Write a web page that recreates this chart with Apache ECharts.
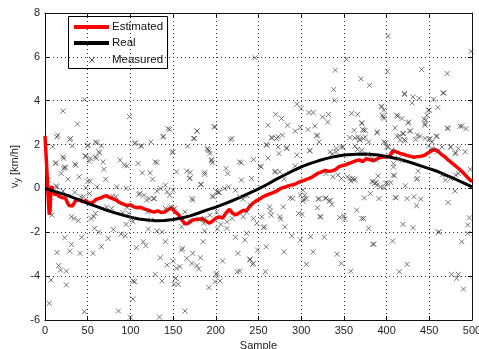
<!DOCTYPE html>
<html>
<head>
<meta charset="utf-8">
<script src="https://cdn.jsdelivr.net/npm/echarts@6/dist/echarts.min.js"></script>
<style>
  html, body { margin: 0; padding: 0; background: #fff; width: 100%; height: 100%; overflow: hidden; }
  #chart { width: 100vw; height: 100vh; }
</style>
</head>
<body>
<div id="chart"></div>
<script>
// Filter estimate of the lateral velocity
const estimatedSample = [0, 2, 4, 5, 6, 7, 8, 10, 12, 14, 16, 18, 20, 22, 24, 26, 28, 30, 32, 34, 36, 38, 40,
  44, 48, 52, 56, 60, 64, 68, 72, 76, 80, 84, 88, 92, 96, 100, 104, 108, 112, 116, 120, 124, 128, 132, 136,
  140, 144, 148, 152, 156, 160, 164, 168, 172, 176, 180, 184, 188, 192, 196, 200, 204, 208, 212, 216, 220,
  224, 228, 232, 236, 240, 244, 248, 252, 256, 260, 264, 268, 272, 276, 280, 284, 288, 292, 296, 300, 304,
  308, 312, 316, 320, 324, 328, 332, 336, 340, 344, 348, 352, 356, 360, 364, 368, 372, 376, 380, 384, 388,
  392, 396, 400, 404, 408, 412, 416, 420, 424, 428, 432, 436, 440, 444, 448, 452, 456, 460, 464, 468, 472,
  476, 480, 484, 488, 492, 496, 500];
const estimatedValue = [2.4, 1.0, -0.6, -1.2, -1.0, 0.0, 0.1, -0.2, -0.3, -0.2, -0.35, -0.3, -0.42, -0.35,
  -0.45, -0.62, -0.78, -0.85, -0.8, -0.68, -0.55, -0.58, -0.52,
  -0.6, -0.56, -0.68, -0.63, -0.5, -0.45, -0.38, -0.33, -0.42, -0.48, -0.55, -0.66, -0.72, -0.78, -0.75,
  -0.84, -0.88, -0.86, -0.93, -0.98, -1.04, -1.08, -1.02, -1.1, -1.08, -0.97, -0.88, -1.06, -1.18, -1.42,
  -1.62, -1.58, -1.45, -1.42, -1.4, -1.38, -1.47, -1.58, -1.5, -1.36, -1.3, -1.35, -1.12, -0.95, -1.15,
  -1.2, -1.1, -1.0, -1.02, -0.8, -0.66, -0.55, -0.47, -0.36, -0.3, -0.24, -0.18, -0.1, 0.0, 0.05, 0.1,
  0.15, 0.18, 0.26, 0.32, 0.38, 0.44, 0.5, 0.6, 0.7, 0.76, 0.82, 0.78, 0.8, 0.86, 0.98, 1.04, 1.08, 1.14,
  1.2, 1.26, 1.3, 1.22, 1.35, 1.32, 1.27, 1.33, 1.4, 1.44, 1.42, 1.5, 1.72, 1.66, 1.6, 1.55, 1.5, 1.46,
  1.42, 1.45, 1.47, 1.5, 1.6, 1.7, 1.78, 1.7, 1.56, 1.45, 1.3, 1.18, 1.05, 0.92, 0.78, 0.62, 0.45, 0.3];

// True lateral velocity
const realSample = [0, 10, 20, 30, 40, 50, 60, 70, 80, 90, 100, 110, 120, 130, 140, 150, 160, 170, 180,
  190, 200, 210, 220, 230, 240, 250, 260, 270, 280, 290, 300, 310, 320, 330, 340, 350, 360, 370, 380, 390,
  400, 410, 420, 430, 440, 450, 460, 470, 480, 490, 500];
const realValue = [0.0, -0.12, -0.24, -0.37, -0.52, -0.68, -0.82, -0.96, -1.09, -1.2, -1.31, -1.39, -1.44,
  -1.47, -1.46, -1.42, -1.35, -1.25, -1.12, -0.98, -0.85, -0.7, -0.55, -0.38, -0.2, -0.02, 0.18, 0.4, 0.6,
  0.8, 0.98, 1.13, 1.26, 1.37, 1.46, 1.52, 1.55, 1.57, 1.56, 1.52, 1.46, 1.38, 1.28, 1.16, 1.03, 0.9, 0.77,
  0.6, 0.43, 0.25, 0.07];

// Noisy measurements [sample, km/h]
const measured = [
  [46,4.05],[21,3.53],[38,2.94],[99,3.28],[15,2.43],[14,2.35],[9,1.9],[29,2.23],[32,1.94],[50,1.94],
  [61,2.09],[66,1.94],[47,1.48],[52,1.24],[64,1.62],[60,1.37],[68,1.21],[69,0.87],[12,1.14],[22,1.37],
  [24,0.94],[36,1.06],[19,0.68],[88,1.29],[93,1.06],[96,1.03],[109,1.14],[114,0.71],[123,0.71],[131,1.18],
  [105,2.05],[113,1.93],[124,2.12],[138,2.35],[146,2.69],[149,1.64],[154,0.76],[166,0.79],[170,0.73],
  [167,1.93],[175,2.28],[178,2.61],[190,1.82],[192,1.71],[193,1.59],[195,1.32],[196,1.17],[198,2.81],
  [187,0.73],[212,0.91],[214,0.68],[217,2.23],[219,2.28],
  [402,6.95],[499,6.25],[246,5.96],[353,5.89],[340,5.39],[401,5.34],[441,5.42],[471,5.24],[370,5.0],
  [380,4.7],[338,4.51],[339,4.02],[421,4.29],[431,4.17],[438,4.1],[430,3.9],[455,4.07],[467,4.35],
  [460,3.69],[450,3.57],[447,3.34],[295,3.84],[300,3.64],[309,3.46],[314,3.46],[325,3.26],[332,3.37],
  [270,3.38],[277,3.19],[331,3.03],[359,3.42],[366,3.38],[394,3.72],[396,3.26],[397,3.19],[412,3.34],
  [418,3.19],[445,2.96],[444,3.16],[261,2.88],[284,2.88],[293,2.61],[299,2.78],[308,2.69],[316,2.85],
  [371,2.99],[362,2.65],[373,2.65],[389,2.58],[425,2.99],[410,2.76],[419,2.5],[415,2.4],[421,2.23],
  [427,2.62],[436,2.43],[450,2.23],[453,2.12],[459,2.38],[471,2.76],[488,2.84],[493,2.73],[265,2.32],
  [273,2.35],[278,2.43],[319,2.43],[321,2.12],[357,2.32],[367,2.35],[375,2.35],[369,2.2],[379,2.12],
  [260,1.97],[273,1.89],[283,1.82],[295,1.52],[310,1.71],[334,1.67],[341,1.82],[347,1.89],[397,2.12],
  [400,1.89],[465,1.89],[475,1.89],[484,1.82],[480,1.59],[244,1.32],[230,1.17],[253,0.98],[270,0.76],
  [275,0.76],[498,0.87],
  [5,-5.24],[46,-5.62],[86,-5.59],[100,-5.87],[103,-5.04],[103,-4.22],[105,-4.25],[134,-5.87],[164,-5.59],
  [7,-4.18],[25,-4.4],[16,-3.52],[18,-3.72],[25,-3.77],[14,-2.92],[29,-2.86],[23,-2.25],[31,-2.55],
  [41,-2.96],[43,-2.23],[56,-2.96],[58,-1.82],[63,-2.0],[66,-2.66],[74,-2.28],[80,-1.87],[89,-2.09],
  [94,-2.16],[95,-1.64],[107,-2.7],[115,-2.43],[118,-2.61],[121,-1.85],[131,-1.94],[137,-1.98],[141,-2.43],
  [135,-3.16],[129,-3.92],[137,-4.22],[143,-3.49],[150,-3.31],[151,-4.37],[154,-3.64],[153,-4.1],
  [158,-3.57],[160,-2.81],[161,-2.73],[160,-1.75],[166,-3.19],[172,-3.42],[173,-2.96],[178,-3.52],
  [182,-3.16],[180,-3.67],[185,-2.43],[187,-1.94],[192,-4.52],[199,-4.25],[201,-3.95],[205,-4.22],
  [208,-3.31],[202,-1.85],[206,-1.64],[223,-2.23],[226,-2.96],[228,-3.77],
  [27,0.42],[40,0.53],[53,0.33],[61,0.07],[71,0.42],[84,0.07],[95,0.0],[48,0.03],[52,-0.23],[35,-0.18],
  [42,-0.38],[14,0.07],[21,-0.12],[31,-1.29],[34,-1.37],[39,-1.47],[8,-1.22],[54,-1.37],[59,-1.14],
  [72,-0.84],[78,-0.91],[101,-1.37],[103,-1.52],[111,-0.23],[116,-0.31],[119,-0.53],[126,0.42],[131,-0.12],
  [128,-0.46],[141,0.15],[146,-0.31],[150,-0.08],[152,-0.91],[169,0.45],[164,-1.07],[170,-1.52],[183,0.18],
  [181,-1.44],[186,-1.59],[196,-0.35],[201,-0.15],[204,-0.18],[215,0.07],[210,0.0],[213,-1.52],[219,-1.37],
  [173,-0.53],
  [242,0.45],[280,0.42],[357,0.45],[363,0.42],[384,0.3],[388,0.27],[399,0.23],[409,0.57],[435,0.42],
  [237,-0.34],[232,-0.49],[263,-0.84],[264,-1.03],[265,-1.22],[279,-0.84],[287,-0.43],[290,-0.46],
  [299,-0.31],[302,-0.58],[303,-0.49],[297,-1.14],[301,-1.18],[320,-0.49],[329,-0.43],[334,-0.53],
  [336,-0.73],[319,-0.88],[322,-1.29],[345,-1.32],[350,-1.25],[351,-1.4],[365,-0.99],[373,-1.37],
  [379,-1.82],[374,-0.43],[381,-0.23],[391,-0.46],[411,-0.43],[424,-0.46],[432,-0.38],[440,-0.49],
  [435,-0.79],[419,-1.64],[431,-1.79],[472,-0.64],[461,-2.0],[497,-1.34],[495,-1.67],[495,-2.05],
  [488,-2.43],[476,-3.92],[484,-3.92],[482,-4.1],[490,-4.59],[407,-2.4],[384,-2.55],[415,-3.8],[424,-3.46],
  [358,-3.77],[342,-3.0],[347,-3.42],[311,-2.2],[327,-2.23],[299,-2.35],[289,-2.16],[280,-2.89],
  [306,-3.46],[314,-2.89],[259,-2.66],[249,-2.81],[240,-3.26],[244,-3.42],[243,-3.46],[258,-3.8],
  [234,-2.35],[236,-2.05],[248,-1.59],[244,-1.37],[256,-1.79],[275,-1.29],[281,-1.75],
  [4,0.38],[13,0.12],[22,0.91],[50,0.33],[45,-0.38],[57,-1.29],[79,-0.35],[83,-0.38],[96,-0.86],
  [91,-1.11],[98,-1.14],[110,-0.27],[122,-0.46],[120,-1.07],[124,-1.44],
  [141,-0.91],[147,-0.84],[172,-0.46],[187,-1.37],[193,-1.22],[201,-1.07],[197,-0.38],[203,-0.18],
  [223,-0.08],[228,-0.38],[232,-1.29],[236,-1.07],[240,-0.76],[213,-1.82],[230,0.38],[127,-0.46],
  [135,0.0],[143,-0.15],[170,0.48],[187,0.64],[182,0.18],[225,-3.8],[240,-3.22],[153,-4.1],[156,-4.37],
  [201,-3.87],
  [269,0.76],[302,-0.08],[304,-0.31],[306,-0.46],[321,-0.46],[328,-0.46],[333,-0.58],[323,-1.29],
  [347,0.45],[354,0.53],[360,0.45],[362,0.38],[358,0.33],[337,0.53],[343,0.61],[329,0.68],[254,-1.29],
  [257,-1.75],[276,-1.4],
  [383,0.33],[386,0.23],[389,0.15],[393,0.07],[397,0.03],[401,0.23],[405,0.27],[390,0.57],[408,0.61],
  [408,0.98],[436,0.45],[437,0.79],[422,0.12],[465,0.61],[469,0.38],[475,0.45],[481,0.61],[484,0.68],
  [480,-0.12],[410,-0.41],[371,-1.37],[385,-2.54],[461,-1.98],
  [266,2.3],[271,2.28],[259,2.0],[274,1.59],[261,1.39],[283,1.85],[252,1.02],[293,1.02],[318,2.4],
  [310,1.74],[371,2.96],[372,2.69],[363,2.3],[368,2.23],[336,1.56],[341,1.67],[349,1.89],[363,1.93],
  [366,1.78],[371,1.74],
  [421,4.33],[466,4.35],[394,3.75],[397,3.57],[395,3.34],[449,3.57],[446,3.11],[445,2.88],[413,3.29],
  [426,3.03],[420,2.5],[428,2.62],[412,2.38],[416,2.2],[422,2.17],[389,2.53],[375,2.65],[373,2.28],
  [472,2.73],[486,2.84],[434,2.23],[439,2.38],[445,2.28],[451,2.28],[458,2.38],[399,2.08],[402,1.89],
  [406,1.74],[449,1.93],[453,1.82],[459,1.67],[475,1.89],[481,1.62],[492,1.67],[378,1.56],[383,1.37],
  [388,1.29],[408,1.14],[414,1.37],[418,1.26],
  [30,2.28],[50,1.97],[59,2.12],[63,1.67],[106,2.08],[112,1.93],[21,1.44],[13,1.17],[23,0.98],[35,1.11],
  [48,1.47],[53,1.37],[59,1.44],[144,2.73],[139,2.38],[178,2.62],[174,2.28],[199,2.81],[150,1.67],
  [129,1.21],[191,1.78],[195,1.26],[228,1.21]
];

const xTicks = { min: 0, max: 500, step: 50 };
const yTicks = { min: -6, max: 8, step: 2 };
const legendNames = ['Estimated', 'Real', 'Measured'];

const FONT = 'Liberation Sans, Arial, Helvetica, sans-serif';
const estimatedData = estimatedSample.map((s, i) => [s, estimatedValue[i]]);
const realData = realSample.map((s, i) => [s, realValue[i]]);
const crossPath = 'path://M0,0L10,10M10,0L0,10';

const chart = echarts.init(document.getElementById('chart'), null, { renderer: 'canvas' });

const gridLine = { show: true, lineStyle: { color: '#333', width: 1, type: [1, 3] } };
const boxAxisLine = { show: true, onZero: false, lineStyle: { color: '#111', width: 1 } };
const innerTick = { show: true, inside: true, length: 4, lineStyle: { color: '#111' } };

chart.setOption({
  animation: false,
  backgroundColor: '#fff',
  grid: { left: 45, right: 7, top: 13, bottom: 29, containLabel: false, outerBoundsMode: 'none' },
  xAxis: [
    {
      type: 'value', min: xTicks.min, max: xTicks.max, interval: xTicks.step,
      axisLine: boxAxisLine, axisTick: innerTick, splitLine: gridLine,
      axisLabel: { color: '#222', fontSize: 11, fontFamily: FONT, margin: 5 },
      name: 'Sample', nameLocation: 'middle', nameGap: 16,
      nameTextStyle: { color: '#222', fontSize: 11, fontFamily: FONT }
    },
    {
      type: 'value', position: 'top', min: xTicks.min, max: xTicks.max, interval: xTicks.step,
      axisLine: boxAxisLine, axisTick: innerTick, axisLabel: { show: false }, splitLine: { show: false }
    }
  ],
  yAxis: [
    {
      type: 'value', min: yTicks.min, max: yTicks.max, interval: yTicks.step,
      axisLine: boxAxisLine, axisTick: innerTick, splitLine: gridLine,
      axisLabel: { color: '#222', fontSize: 11, fontFamily: FONT, margin: 5 },
      name: 'v{s|y} [km/h]', nameLocation: 'middle', nameGap: 23, nameRotate: 90, nameMoveOverlap: false,
      nameTextStyle: {
        color: '#222', fontSize: 11, fontFamily: FONT,
        rich: { s: { fontSize: 9, fontFamily: FONT, color: '#222', padding: [5, 0, 0, 0] } }
      }
    },
    {
      type: 'value', position: 'right', min: yTicks.min, max: yTicks.max, interval: yTicks.step,
      axisLine: boxAxisLine, axisTick: innerTick, axisLabel: { show: false }, splitLine: { show: false }
    }
  ],
  series: [
    {
      name: legendNames[0], type: 'line', data: estimatedData, symbol: 'none', showSymbol: false,
      lineStyle: { color: '#ff0000', width: 3.5 }, z: 3
    },
    {
      name: legendNames[1], type: 'line', data: realData, symbol: 'none', showSymbol: false, smooth: false,
      lineStyle: { color: '#000', width: 3 }, z: 4
    },
    {
      name: legendNames[2], type: 'scatter', data: measured, symbol: crossPath, symbolSize: 5,
      itemStyle: { color: 'rgba(0,0,0,0)', borderColor: '#444', borderWidth: 0.9 }, z: 5
    }
  ],
  graphic: [
    {
      type: 'group', left: 68, top: 16, z: 100,
      children: [
        { type: 'rect', shape: { x: 0.5, y: 0.5, width: 99, height: 52 },
          style: { fill: '#fff', stroke: '#000', lineWidth: 1 } },
        { type: 'line', shape: { x1: 6, y1: 11, x2: 41, y2: 11 }, style: { stroke: '#ff0000', lineWidth: 4 } },
        { type: 'text', x: 44, y: 11, style: { text: legendNames[0], fill: '#111', font: '11.5px ' + FONT, verticalAlign: 'middle' } },
        { type: 'line', shape: { x1: 6, y1: 27, x2: 41, y2: 27 }, style: { stroke: '#000', lineWidth: 4 } },
        { type: 'text', x: 44, y: 27, style: { text: legendNames[1], fill: '#111', font: '11.5px ' + FONT, verticalAlign: 'middle' } },
        { type: 'line', shape: { x1: 21.5, y1: 41.5, x2: 26.5, y2: 46.5 }, style: { stroke: '#444', lineWidth: 0.9 } },
        { type: 'line', shape: { x1: 26.5, y1: 41.5, x2: 21.5, y2: 46.5 }, style: { stroke: '#444', lineWidth: 0.9 } },
        { type: 'text', x: 44, y: 44, style: { text: legendNames[2], fill: '#111', font: '11.5px ' + FONT, verticalAlign: 'middle' } }
      ]
    }
  ]
});
</script>
</body>
</html>
